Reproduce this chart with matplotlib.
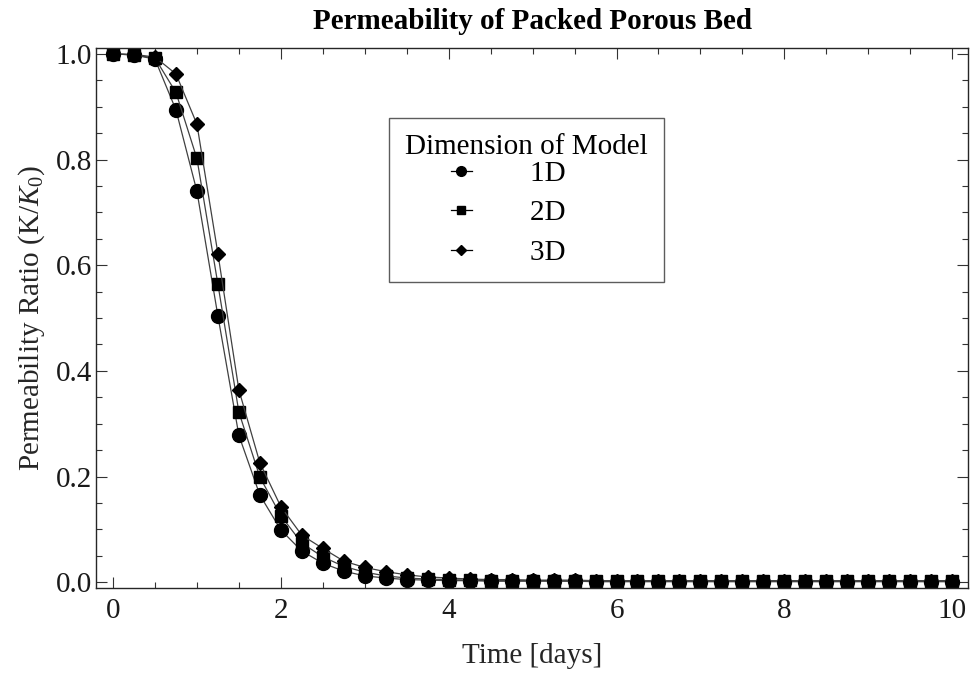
import numpy as np
import matplotlib.pyplot as plt
from matplotlib.ticker import MultipleLocator

plt.rcParams['font.family'] = ['Liberation Serif', 'DejaVu Serif']
plt.rcParams['mathtext.fontset'] = 'custom'
plt.rcParams['mathtext.rm'] = 'Liberation Serif'
plt.rcParams['mathtext.it'] = 'Liberation Serif:italic'

# time samples, every quarter day
time_days = np.arange(0, 10.01, 0.25)

# permeability ratio K/K0 for each model dimension
k_1d = [1.000, 0.998, 0.990, 0.894, 0.740, 0.504, 0.278, 0.165, 0.099, 0.059,
        0.036, 0.021, 0.012, 0.008, 0.005, 0.004, 0.003, 0.003, 0.002, 0.002,
        0.002, 0.002, 0.002, 0.001, 0.001, 0.001, 0.001, 0.001, 0.001, 0.001,
        0.001, 0.001, 0.001, 0.001, 0.001, 0.001, 0.001, 0.001, 0.001, 0.001,
        0.001]
k_2d = [1.000, 0.998, 0.992, 0.927, 0.802, 0.564, 0.322, 0.199, 0.126, 0.074,
        0.048, 0.030, 0.019, 0.012, 0.008, 0.006, 0.005, 0.004, 0.003, 0.003,
        0.003, 0.003, 0.002, 0.002, 0.002, 0.002, 0.002, 0.002, 0.002, 0.002,
        0.002, 0.002, 0.002, 0.002, 0.002, 0.002, 0.002, 0.002, 0.002, 0.002,
        0.002]
k_3d = [1.000, 0.999, 0.994, 0.962, 0.867, 0.622, 0.364, 0.226, 0.143, 0.089,
        0.064, 0.040, 0.028, 0.020, 0.014, 0.010, 0.008, 0.006, 0.005, 0.005,
        0.004, 0.004, 0.004, 0.003, 0.003, 0.003, 0.003, 0.003, 0.003, 0.003,
        0.003, 0.003, 0.003, 0.003, 0.003, 0.003, 0.003, 0.003, 0.003, 0.003,
        0.003]

series = [
    ("1D", k_1d, "o", 10.0),
    ("2D", k_2d, "s", 8.0),
    ("3D", k_3d, "D", 7.5),
]

FS = 21

fig = plt.figure(figsize=(9.72, 6.77), dpi=100)
ax = fig.add_axes([0.099, 0.131, 0.897, 0.798])

for name, vals, mk, ms in series:
    # trailing spaces push the legend entries a bit left of the title centre
    ax.plot(time_days, vals, color="0.25", lw=0.9, marker=mk, ms=ms,
            mfc="black", mec="black", label=name + "     ")

ax.set_xlim(-0.2, 10.19)
ax.set_ylim(-0.0115, 1.011)

ax.xaxis.set_major_locator(MultipleLocator(2))
ax.xaxis.set_minor_locator(MultipleLocator(0.5))
ax.yaxis.set_major_locator(MultipleLocator(0.2))
ax.yaxis.set_minor_locator(MultipleLocator(0.05))
ax.yaxis.set_major_formatter(plt.FuncFormatter(lambda v, p: f"{v:.1f}"))

ax.tick_params(which="both", direction="in", top=True, right=True,
               labelsize=FS, width=0.8, color="0.2", labelcolor="0.1")
ax.tick_params(which="major", length=8)
ax.tick_params(which="minor", length=4)
ax.tick_params(axis="x", pad=7)
ax.tick_params(axis="y", pad=3)
for s in ax.spines.values():
    s.set_linewidth(1.0)
    s.set_color("0.15")

ax.set_xlabel("Time [days]", fontsize=FS, labelpad=14, color="0.15")
ax.set_ylabel(r"Permeability Ratio (K/$K_0$)", fontsize=FS, labelpad=6,
              color="0.15")
ax.set_title("Permeability of Packed Porous Bed", fontsize=FS,
             fontweight="bold", pad=14)

leg = ax.legend(title="Dimension of Model", loc="upper left",
                bbox_to_anchor=(0.336, 0.870), fontsize=FS,
                title_fontsize=FS, frameon=True, fancybox=False,
                handlelength=0.7, handletextpad=2.0, borderpad=0.55,
                labelspacing=0.45, markerscale=0.7, borderaxespad=0)
leg._legend_box.sep = 0  # title sits tight on the first entry
leg.get_frame().set_edgecolor("0.2")
leg.get_frame().set_linewidth(1.0)
for h in leg.legend_handles:
    h.set_color("black")

fig.savefig("out.png", dpi=100)
